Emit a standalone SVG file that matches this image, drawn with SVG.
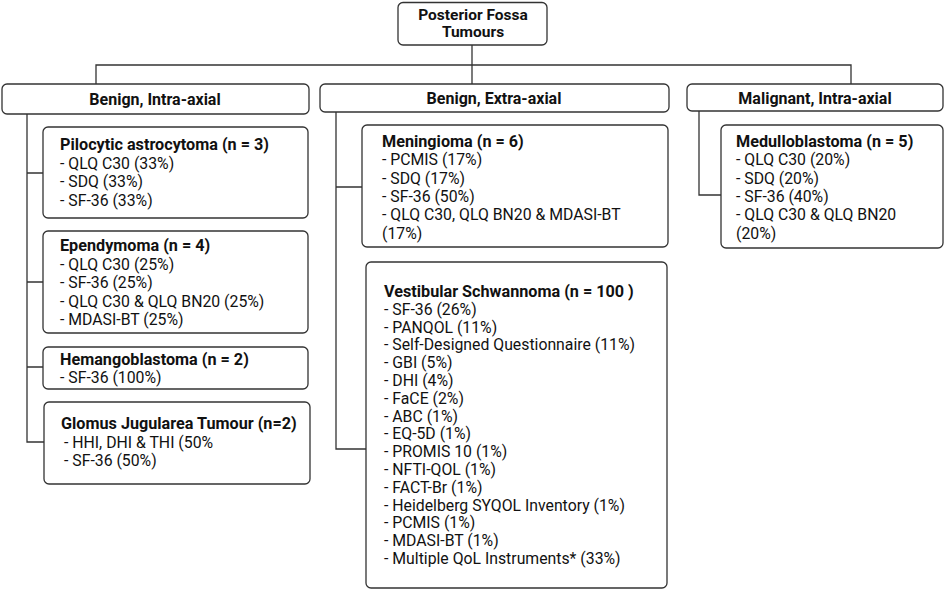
<svg xmlns="http://www.w3.org/2000/svg" width="945" height="592" viewBox="0 0 945 592">
<style>
  .box { fill: #ffffff; stroke: #333333; stroke-width: 1.3; }
  .conn { fill: none; stroke: #333333; stroke-width: 1.3; }
  .hdr { font-family: Roboto, "Liberation Sans", sans-serif; font-weight: bold; font-size: 16px; fill: #111111; text-anchor: middle; }
  .top { font-family: Roboto, "Liberation Sans", sans-serif; font-weight: bold; font-size: 15.5px; fill: #111111; text-anchor: middle; }
  .t { font-family: Roboto, "Liberation Sans", sans-serif; font-size: 15.8px; fill: #111111; }
  .b { font-weight: bold; font-size: 16.2px; }
</style>
<rect width="945" height="592" fill="#ffffff"/>
<g id="connectors">
  <path class="conn" d="M472,45 V84"/>
  <path class="conn" d="M96,84 V65 H851 V84"/>
  <path class="conn" d="M27,114 V442 H44 M27,173 H43 M27,282 H43 M27,367 H43"/>
  <path class="conn" d="M336,112 V449 H366 M336,187 H362"/>
  <path class="conn" d="M699,111 V195 H721"/>
</g>
<g id="root">
  <rect class="box" x="398" y="2.5" width="149" height="42.5" rx="5"/>
  <text class="top" x="473" y="20">Posterior Fossa</text>
  <text class="top" x="473" y="37">Tumours</text>
</g>
<g id="benign-intra">
  <rect class="box" x="2" y="84" width="307" height="30" rx="5"/>
  <text class="hdr" x="155" y="105">Benign, Intra-axial</text>
</g>
<g id="benign-extra">
  <rect class="box" x="320" y="84" width="349" height="28" rx="5"/>
  <text class="hdr" x="494" y="104">Benign, Extra-axial</text>
</g>
<g id="malignant-intra">
  <rect class="box" x="687" y="84" width="256" height="27" rx="5"/>
  <text class="hdr" x="815" y="104">Malignant, Intra-axial</text>
</g>
<g id="pilocytic">
  <rect class="box" x="43" y="127" width="265" height="91" rx="5"/>
  <text class="t" x="60">
    <tspan class="b" x="60" y="150">Pilocytic astrocytoma (n = 3)</tspan>
    <tspan x="60" y="168.5">- QLQ C30 (33%)</tspan>
    <tspan x="60" y="187">- SDQ (33%)</tspan>
    <tspan x="60" y="205.5">- SF-36 (33%)</tspan>
  </text>
</g>
<g id="ependymoma">
  <rect class="box" x="43" y="231" width="265" height="102" rx="5"/>
  <text class="t" x="60">
    <tspan class="b" x="60" y="251">Ependymoma (n = 4)</tspan>
    <tspan x="60" y="269.5">- QLQ C30 (25%)</tspan>
    <tspan x="60" y="288">- SF-36 (25%)</tspan>
    <tspan x="60" y="306.5">- QLQ C30 &amp; QLQ BN20 (25%)</tspan>
    <tspan x="60" y="325">- MDASI-BT (25%)</tspan>
  </text>
</g>
<g id="hemangioblastoma">
  <rect class="box" x="43" y="347" width="265" height="42" rx="5"/>
  <text class="t" x="60">
    <tspan class="b" x="60" y="365">Hemangoblastoma (n = 2)</tspan>
    <tspan x="60" y="383">- SF-36 (100%)</tspan>
  </text>
</g>
<g id="glomus">
  <rect class="box" x="44" y="402" width="266" height="82" rx="5"/>
  <text class="t" x="61">
    <tspan class="b" x="61" y="429">Glomus Jugularea Tumour (n=2)</tspan>
    <tspan x="64" y="447.5">- HHI, DHI &amp; THI (50%</tspan>
    <tspan x="64" y="466">- SF-36 (50%)</tspan>
  </text>
</g>
<g id="meningioma">
  <rect class="box" x="362" y="125" width="306" height="122" rx="5"/>
  <text class="t" x="382">
    <tspan class="b" x="382" y="147">Meningioma (n = 6)</tspan>
    <tspan x="382" y="165.3">- PCMIS (17%)</tspan>
    <tspan x="382" y="183.6">- SDQ (17%)</tspan>
    <tspan x="382" y="201.9">- SF-36 (50%)</tspan>
    <tspan x="382" y="220.2">- QLQ C30, QLQ BN20 &amp; MDASI-BT</tspan>
    <tspan x="382" y="238.5">(17%)</tspan>
  </text>
</g>
<g id="vestibular">
  <rect class="box" x="366" y="262" width="301" height="326" rx="5"/>
  <text class="t" x="384">
    <tspan class="b" x="384" y="297">Vestibular Schwannoma (n = 100 )</tspan>
    <tspan x="384" y="314.8">- SF-36 (26%)</tspan>
    <tspan x="384" y="332.6">- PANQOL (11%)</tspan>
    <tspan x="384" y="350.4">- Self-Designed Questionnaire (11%)</tspan>
    <tspan x="384" y="368.2">- GBI (5%)</tspan>
    <tspan x="384" y="386">- DHI (4%)</tspan>
    <tspan x="384" y="403.8">- FaCE (2%)</tspan>
    <tspan x="384" y="421.6">- ABC (1%)</tspan>
    <tspan x="384" y="439.4">- EQ-5D (1%)</tspan>
    <tspan x="384" y="457.2">- PROMIS 10 (1%)</tspan>
    <tspan x="384" y="475">- NFTI-QOL (1%)</tspan>
    <tspan x="384" y="492.8">- FACT-Br (1%)</tspan>
    <tspan x="384" y="510.6">- Heidelberg SYQOL Inventory (1%)</tspan>
    <tspan x="384" y="528.4">- PCMIS (1%)</tspan>
    <tspan x="384" y="546.2">- MDASI-BT (1%)</tspan>
    <tspan x="384" y="564">- Multiple QoL Instruments* (33%)</tspan>
  </text>
</g>
<g id="medulloblastoma">
  <rect class="box" x="721" y="125" width="222" height="123" rx="5"/>
  <text class="t" x="736">
    <tspan class="b" x="736" y="147">Medulloblastoma (n = 5)</tspan>
    <tspan x="736" y="165.3">- QLQ C30 (20%)</tspan>
    <tspan x="736" y="183.6">- SDQ (20%)</tspan>
    <tspan x="736" y="201.9">- SF-36 (40%)</tspan>
    <tspan x="736" y="220.2">- QLQ C30 &amp; QLQ BN20</tspan>
    <tspan x="736" y="238.5">(20%)</tspan>
  </text>
</g>
</svg>
